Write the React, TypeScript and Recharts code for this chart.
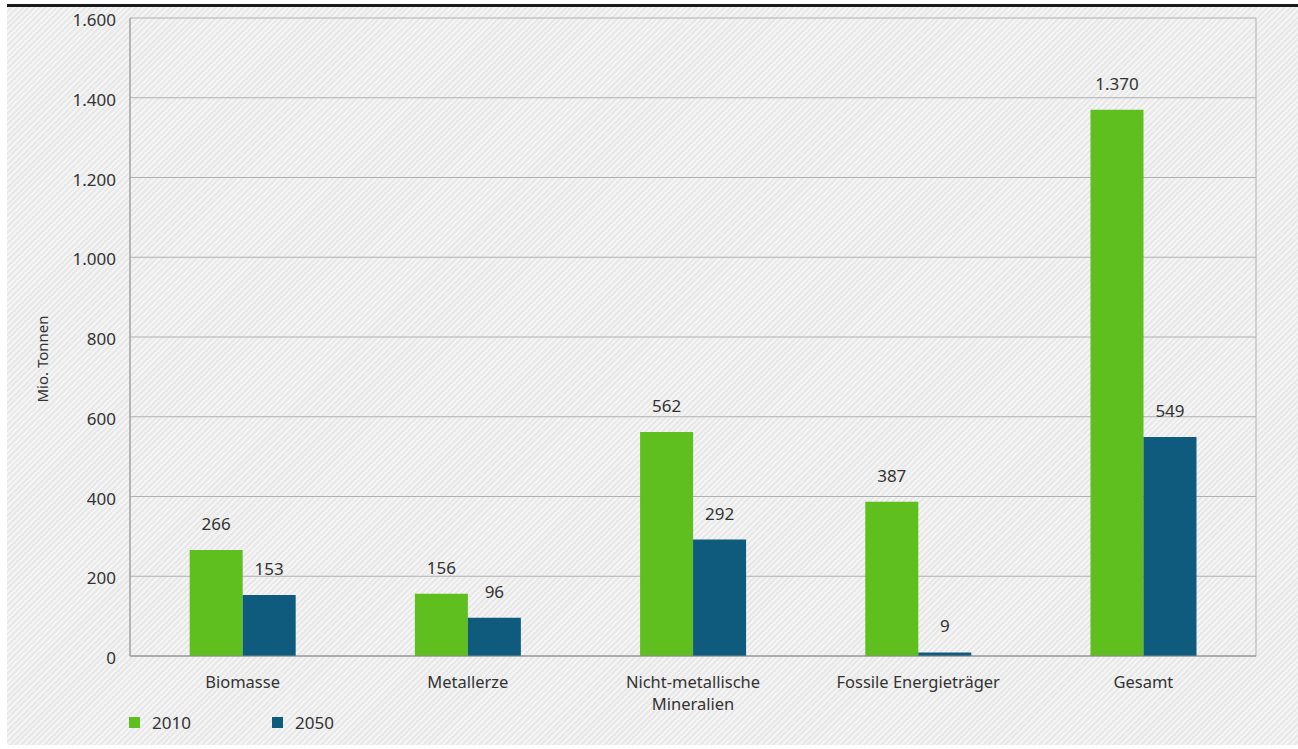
import React from 'react';
import {
  BarChart,
  Bar,
  XAxis,
  YAxis,
  CartesianGrid,
  Legend,
  LabelList,
} from 'recharts';

const categories = [
  'Biomasse',
  'Metallerze',
  'Nicht-metallische\nMineralien',
  'Fossile Energieträger',
  'Gesamt',
];
const values2010 = [266, 156, 562, 387, 1370];
const values2050 = [153, 96, 292, 9, 549];
const yTicks = [0, 200, 400, 600, 800, 1000, 1200, 1400, 1600];
const boundaryTicks = [0, 1, 2, 3, 4, 5];

const GREEN = '#5ebf1f';
const BLUE = '#0e5b7e';
const FONT = '"Noto Sans", "Open Sans", sans-serif';
const TEXT = '#333';
const FS = 17;

const data = categories.map((c, i) => ({
  name: c,
  y2010: values2010[i],
  y2050: values2050[i],
}));

// German thousands separator: 1370 -> 1.370
const fmt = (v: number | string) =>
  String(v).replace(/\B(?=(\d{3})+(?!\d))/g, '.');

function CategoryTick(props: any) {
  const { x, y, payload } = props;
  const lines = String(payload.value).split('\n');
  return (
    <g>
      {lines.map((l, i) => (
        <text
          key={i}
          x={x}
          y={y + 16 + i * 22}
          textAnchor="middle"
          fill={TEXT}
          fontSize={16.5}
          fontFamily={FONT}
        >
          {l}
        </text>
      ))}
    </g>
  );
}

function YLabel(props: any) {
  const { viewBox } = props;
  const cy = viewBox.y + viewBox.height / 2 + 22;
  return (
    <text
      x={42}
      y={cy}
      transform={`rotate(-90, 42, ${cy})`}
      textAnchor="middle"
      dominantBaseline="central"
      fill={TEXT}
      fontSize={15}
      fontFamily={FONT}
    >
      Mio. Tonnen
    </text>
  );
}

function LegendContent() {
  const items = [
    { label: '2010', color: GREEN },
    { label: '2050', color: BLUE },
  ];
  return (
    <div style={{ display: 'flex', fontFamily: FONT, fontSize: FS, color: TEXT }}>
      {items.map((it) => (
        <div
          key={it.label}
          style={{ display: 'flex', alignItems: 'center', width: 143 }}
        >
          <span
            style={{
              display: 'inline-block',
              width: 11,
              height: 11,
              background: it.color,
              marginRight: 12,
            }}
          />
          <span>{it.label}</span>
        </div>
      ))}
    </div>
  );
}

export default function App() {
  return (
    <div
      style={{
        position: 'absolute',
        left: 0,
        top: 0,
        width: 1298,
        height: 749,
        background: '#fff',
      }}
    >
      <div
        style={{
          position: 'absolute',
          left: 7,
          top: 4,
          right: 0,
          bottom: 4,
          borderTop: '3px solid #1a1a1a',
          background:
            'repeating-linear-gradient(-45deg, #f4f4f4 0px, #f4f4f4 2px, #e8e8e8 2px, #e8e8e8 4px)',
        }}
      />
      <div style={{ position: 'absolute', left: 0, top: 0 }}>
        <BarChart
          width={1298}
          height={749}
          data={data}
          margin={{ top: 18, right: 42, left: 70, bottom: 13 }}
          barCategoryGap="26.5%"
          barGap={0}
        >
          <CartesianGrid xAxisId="b" stroke="#b0b0b0" strokeWidth={1} />
          <XAxis
            xAxisId="b"
            type="number"
            domain={[0, 5]}
            ticks={boundaryTicks}
            tick={false}
            tickSize={8}
            tickLine={{ stroke: '#888' }}
            axisLine={{ stroke: '#888' }}
            height={8}
          />
          <XAxis
            xAxisId="c"
            dataKey="name"
            axisLine={false}
            tickLine={false}
            tick={<CategoryTick />}
            interval={0}
            height={49}
          />
          <YAxis
            domain={[0, 1600]}
            ticks={yTicks}
            tickFormatter={fmt}
            width={60}
            tickLine={false}
            tickSize={6}
            tickMargin={8}
            axisLine={{ stroke: '#999' }}
            tick={{ fill: TEXT, fontSize: FS, fontFamily: FONT, dy: 2 }}
            label={<YLabel />}
          />
          <Legend
            verticalAlign="bottom"
            align="left"
            content={<LegendContent />}
            wrapperStyle={{ left: 129, bottom: 15, width: 400 }}
          />
          <Bar
            xAxisId="c"
            dataKey="y2010"
            name="2010"
            fill={GREEN}
            isAnimationActive={false}
          >
            <LabelList
              dataKey="y2010"
              position="top"
              offset={20}
              formatter={fmt}
              fill={TEXT}
              fontSize={FS}
              fontFamily={FONT}
            />
          </Bar>
          <Bar
            xAxisId="c"
            dataKey="y2050"
            name="2050"
            fill={BLUE}
            isAnimationActive={false}
          >
            <LabelList
              dataKey="y2050"
              position="top"
              offset={20}
              formatter={fmt}
              fill={TEXT}
              fontSize={FS}
              fontFamily={FONT}
            />
          </Bar>
        </BarChart>
      </div>
    </div>
  );
}
